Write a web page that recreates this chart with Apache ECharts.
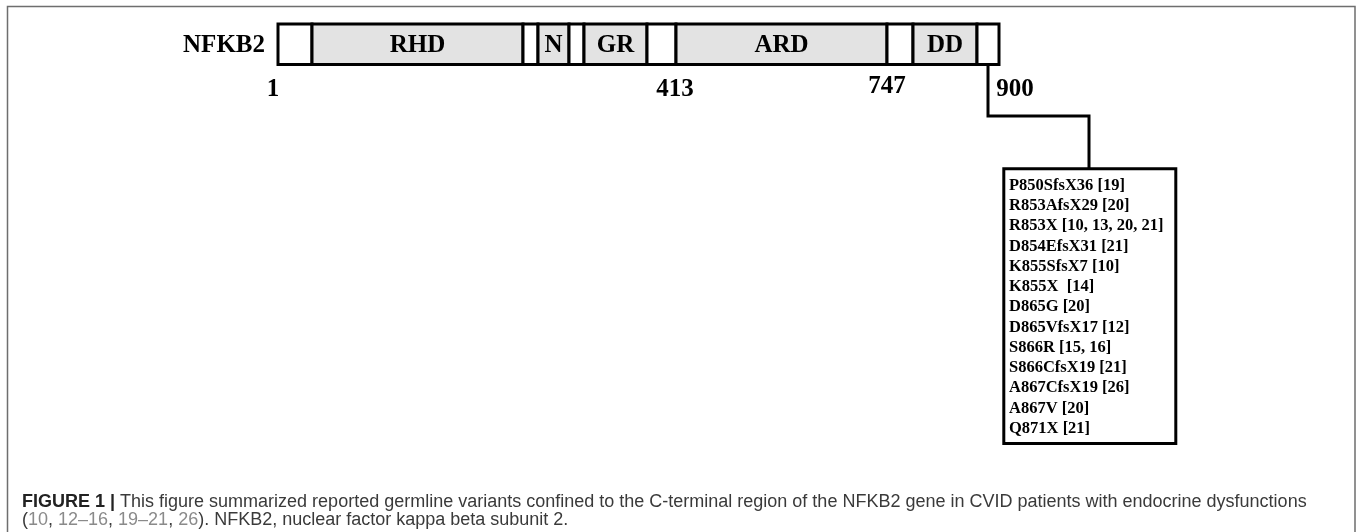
<!DOCTYPE html>
<html>
<head>
<meta charset="utf-8">
<script src="https://cdn.jsdelivr.net/npm/echarts@6/dist/echarts.min.js"></script>
<style>
  html,body{margin:0;padding:0;background:#fff;}
  #chart{width:1357px;height:532px;}
</style>
</head>
<body>
<div id="chart"></div>
<script>
// ---- Data (diagram units along the protein schematic) ----
const geneName = 'NFKB2';
const segStart = [278, 312, 523, 538, 569, 584, 647, 676, 887, 913, 977];
const segEnd   = [312, 523, 538, 569, 584, 647, 676, 887, 913, 977, 999];
const segLabel = ['', 'RHD', '', 'N', '', 'GR', '', 'ARD', '', 'DD', ''];
const segIsDomain = [0, 1, 0, 1, 0, 1, 0, 1, 0, 1, 0];
const residueLabels = ['1', '413', '747', '900'];
const residueAt = [273, 675, 887, 1015];
const residueRow = [90, 90, 87, 90];
const connectorX = [988, 988, 1089, 1089];
const connectorY = [65, 116, 116, 168];
const variants = [
  'P850SfsX36 [19]',
  'R853AfsX29 [20]',
  'R853X [10, 13, 20, 21]',
  'D854EfsX31 [21]',
  'K855SfsX7 [10]',
  'K855X  [14]',
  'D865G [20]',
  'D865VfsX17 [12]',
  'S866R [15, 16]',
  'S866CfsX19 [21]',
  'A867CfsX19 [26]',
  'A867V [20]',
  'Q871X [21]'
];

// ---- Layout / style constants ----
const SERIF = '"Liberation Serif", "Times New Roman", serif';
const SANS = '"Liberation Sans", Arial, Helvetica, sans-serif';
const barTop = 24, barBottom = 64.5;
const boxL = 1003.8, boxR = 1175.8, boxT = 168.8, boxB = 443.5;
const textX = 1009, firstLineY = 185.5, lineStep = 20.25;

const chart = echarts.init(document.getElementById('chart'), null, {renderer: 'canvas'});

const option = {
  animation: false,
  backgroundColor: '#ffffff',
  grid: {left: 0, right: 0, top: 0, bottom: 0},
  xAxis: {type: 'value', min: 0, max: 1357, show: false},
  yAxis: {type: 'value', min: 0, max: 532, inverse: true, show: false},
  title: {
    left: 22,
    top: 492.5,
    padding: 0,
    text: '{b|FIGURE 1 |} {t|This figure summarized reported germline variants confined to the C-terminal region of the NFKB2 gene in CVID patients with endocrine dysfunctions}\n' +
          '{t|(}{g|10}{t|, }{g|12–16}{t|, }{g|19–21}{t|, }{g|26}{t|). NFKB2, nuclear factor kappa beta subunit 2.}',
    textStyle: {
      fontFamily: SANS,
      fontSize: 18,
      lineHeight: 18.5,
      rich: {
        b: {fontFamily: SANS, fontSize: 18, fontWeight: 'bold', color: '#222222', lineHeight: 18.5},
        t: {fontFamily: SANS, fontSize: 18, fontWeight: 'normal', color: '#3a3a3a', lineHeight: 18.5},
        g: {fontFamily: SANS, fontSize: 18, fontWeight: 'normal', color: '#8a8a8a', lineHeight: 18.5}
      }
    }
  },
  graphic: [
    {type: 'polyline', silent: true, shape: {points: [[7.5, 532], [7.5, 6.5], [1355, 6.5], [1355, 532]]},
     style: {stroke: '#6e6e6e', lineWidth: 1.5, fill: null}}
  ],
  series: [
    {
      type: 'custom', silent: true, clip: false,
      data: segStart.map((s, i) => [s, segEnd[i], i]),
      renderItem: function (params, api) {
        const i = api.value(2);
        const p0 = api.coord([api.value(0), barTop]);
        const p1 = api.coord([api.value(1), barBottom]);
        const children = [{
          type: 'rect',
          shape: {x: p0[0], y: p0[1], width: p1[0] - p0[0], height: p1[1] - p0[1]},
          style: {fill: segIsDomain[i] ? '#e3e3e3' : '#ffffff', stroke: '#000000', lineWidth: 3}
        }];
        if (segLabel[i]) {
          children.push({
            type: 'text',
            style: {x: (p0[0] + p1[0]) / 2, y: (p0[1] + p1[1]) / 2 + 1, text: segLabel[i],
                    fontFamily: SERIF, fontSize: 25, fontWeight: 'bold', fill: '#000',
                    align: 'center', verticalAlign: 'middle'}
          });
        }
        return {type: 'group', children: children};
      }
    },
    {
      type: 'custom', silent: true, clip: false,
      data: [[segStart[0], (barTop + barBottom) / 2]],
      renderItem: function (params, api) {
        const p = api.coord([api.value(0), api.value(1)]);
        return {type: 'text', style: {x: p[0] - 13, y: p[1] + 1, text: geneName,
          fontFamily: SERIF, fontSize: 25, fontWeight: 'bold', fill: '#000', align: 'right', verticalAlign: 'middle'}};
      }
    },
    {
      type: 'custom', silent: true, clip: false,
      data: residueAt.map((x, i) => [x, residueRow[i], i]),
      renderItem: function (params, api) {
        const p = api.coord([api.value(0), api.value(1)]);
        return {type: 'text', style: {x: p[0], y: p[1], text: residueLabels[api.value(2)],
          fontFamily: SERIF, fontSize: 25, fontWeight: 'bold', fill: '#000', align: 'center', verticalAlign: 'middle'}};
      }
    },
    {
      type: 'custom', silent: true, clip: false,
      data: [[0]],
      renderItem: function (params, api) {
        const pts = connectorX.map((x, i) => api.coord([x, connectorY[i]]));
        return {type: 'polyline', shape: {points: pts}, style: {stroke: '#000', lineWidth: 3, fill: null}};
      }
    },
    {
      type: 'custom', silent: true, clip: false,
      data: [[boxL, boxT, boxR, boxB]],
      renderItem: function (params, api) {
        const a = api.coord([api.value(0), api.value(1)]);
        const b = api.coord([api.value(2), api.value(3)]);
        return {type: 'rect', shape: {x: a[0], y: a[1], width: b[0] - a[0], height: b[1] - a[1]},
          style: {fill: '#fff', stroke: '#000', lineWidth: 3}};
      }
    },
    {
      type: 'custom', silent: true, clip: false, z: 5,
      data: variants.map((v, i) => [i]),
      renderItem: function (params, api) {
        const i = api.value(0);
        const p = api.coord([textX, firstLineY + i * lineStep]);
        return {type: 'text', style: {x: p[0], y: p[1], text: variants[i],
          fontFamily: SERIF, fontSize: 16.5, fontWeight: 'bold', fill: '#000', align: 'left', verticalAlign: 'middle'}};
      }
    }
  ]
};
chart.setOption(option);
</script>
</body>
</html>
